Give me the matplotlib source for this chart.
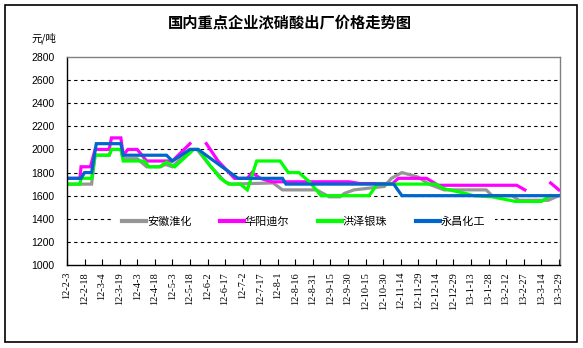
import matplotlib
matplotlib.use("Agg")
import matplotlib.pyplot as plt
from matplotlib.patches import Rectangle
import pandas as pd
import numpy as np

plt.rcParams['font.family'] = ['Noto Sans CJK SC', 'DejaVu Sans']

title = "国内重点企业浓硝酸出厂价格走势图"
unit = "元/吨"
series_names = ["安徽淮化", "华阳迪尔", "洪泽银珠", "永昌化工"]
series_colors = ["#969696", "#FF00FF", "#00FF00", "#0066CC"]

gray_dates = ["2012-02-03", "2012-02-24", "2012-02-27", "2012-03-10", "2012-03-12", "2012-03-20",
              "2012-03-22", "2012-04-03", "2012-04-11", "2012-04-23", "2012-04-27", "2012-05-03",
              "2012-05-18", "2012-05-24", "2012-06-04", "2012-06-17", "2012-06-22", "2012-07-28",
              "2012-08-05", "2012-09-03", "2012-09-14", "2012-09-23", "2012-09-27", "2012-10-05",
              "2012-10-31", "2012-11-06", "2012-11-15", "2012-11-29", "2012-12-08", "2012-12-21",
              "2013-01-26", "2013-01-31", "2013-02-17", "2013-02-23", "2013-03-20", "2013-03-29"]
gray_vals = [1700, 1700, 1950, 1950, 2000, 2000,
             1920, 1920, 1850, 1850, 1870, 1850,
             2000, 2000, 1860, 1720, 1700, 1710,
             1650, 1650, 1590, 1590, 1620, 1650,
             1680, 1750, 1800, 1760, 1700, 1650,
             1650, 1600, 1600, 1560, 1560, 1600]

magenta_dates = ["2012-02-03", "2012-02-14", "2012-02-15", "2012-02-23", "2012-02-27", "2012-03-10",
                 "2012-03-12", "2012-03-20", "2012-03-22", "2012-03-26", "2012-04-03", "2012-04-11",
                 "2012-04-25", "2012-05-03", "2012-05-18", "2012-05-25", "2012-06-01", "2012-06-11",
                 "2012-06-25", "2012-07-06", "2012-07-10", "2012-07-17", "2012-07-27", "2012-10-01",
                 "2012-10-10", "2012-11-07", "2012-11-12", "2012-12-06", "2012-12-16", "2013-02-21",
                 "2013-02-28", "2013-03-10", "2013-03-22", "2013-03-29"]
magenta_vals = [1750, 1750, 1850, 1850, 2000, 2000,
                2100, 2100, 1950, 2000, 2000, 1900,
                1900, 1900, 2050, None, 2050, 1900,
                1750, 1750, 1800, 1750, 1720, 1720,
                1705, 1705, 1750, 1750, 1690, 1690,
                1650, None, 1710, 1650]

green_dates = ["2012-02-03", "2012-02-14", "2012-02-15", "2012-02-24", "2012-02-27", "2012-03-10",
               "2012-03-12", "2012-03-20", "2012-03-22", "2012-04-09", "2012-04-13", "2012-04-22",
               "2012-04-28", "2012-05-05", "2012-05-18", "2012-05-21", "2012-05-25", "2012-06-05",
               "2012-06-13", "2012-06-20", "2012-06-30", "2012-07-06", "2012-07-14", "2012-08-03",
               "2012-08-10", "2012-08-19", "2012-08-28", "2012-09-07", "2012-10-18", "2012-10-25",
               "2012-12-14", "2012-12-21", "2013-01-08", "2013-01-15", "2013-01-31", "2013-02-20",
               "2013-03-14", "2013-03-22"]
green_vals = [1700, 1700, 1750, 1750, 1950, 1950,
              2000, 2000, 1900, 1900, 1850, 1850,
              1890, 1850, 1970, 2000, 2000, 1850,
              1750, 1700, 1700, 1650, 1900, 1900,
              1800, 1800, 1720, 1600, 1600, 1700,
              1700, 1660, 1620, 1600, 1590, 1550,
              1550, 1600]

blue_dates = ["2012-02-03", "2012-02-15", "2012-02-18", "2012-02-24", "2012-02-28", "2012-03-20",
              "2012-03-22", "2012-04-28", "2012-05-03", "2012-05-18", "2012-05-25", "2012-06-28",
              "2012-08-05", "2012-08-08", "2012-11-08", "2012-11-15", "2013-03-29"]
blue_vals = [1750, 1750, 1800, 1800, 2050, 2050,
             1950, 1950, 1900, 2000, 2000, 1750,
             1750, 1700, 1700, 1600, 1600]

y_ticks = [1000, 1200, 1400, 1600, 1800, 2000, 2200, 2400, 2600, 2800]
x_start = "2012-02-03"
x_end = "2013-03-29"
tick_step_days = 15

fig = plt.figure(figsize=(5.83, 3.48), dpi=100)
fig.patch.set_facecolor("white")
fig.add_artist(Rectangle((5 / 583, 1 - 342 / 348), 572 / 583, 337 / 348, transform=fig.transFigure,
                         fill=False, edgecolor="black", linewidth=1.2))

ax = fig.add_axes([67 / 583, 1 - 265 / 348, (560 - 67) / 583, (265 - 57) / 348])

all_data = [(gray_dates, gray_vals), (magenta_dates, magenta_vals),
            (green_dates, green_vals), (blue_dates, blue_vals)]
handles = []
for (d, v), name, c in zip(all_data, series_names, series_colors):
    dd = pd.to_datetime(d)
    vv = np.array([np.nan if x is None else x for x in v], dtype=float)
    h, = ax.plot(dd, vv, color=c, linewidth=2.3, label=name, solid_joinstyle="miter")
    handles.append(h)

start = pd.Timestamp(x_start)
end = pd.Timestamp(x_end)
ticks = pd.date_range(start, end, freq=f"{tick_step_days}D")
ax.set_xlim(start, end + pd.Timedelta(days=1))
ax.set_xticks(ticks)
ax.set_xticklabels([f"{t.year % 100}-{t.month}-{t.day}" for t in ticks], rotation=90,
                   family="Liberation Serif", fontsize=7.5)
ax.tick_params(axis="x", direction="in", length=4, pad=5, color="black")

ax.set_ylim(1000, 2800)
ax.set_yticks(y_ticks)
ax.set_yticklabels([str(v) for v in y_ticks], family="Liberation Sans", fontsize=7.5)
ax.tick_params(axis="y", length=0, pad=9)

for v in y_ticks[1:-1]:
    ax.axhline(v, color="black", linestyle=(0, (3, 3)), linewidth=0.8, zorder=0)

ax.spines["left"].set_color("black")
ax.spines["bottom"].set_color("black")
ax.spines["top"].set_color("#808080")
ax.spines["right"].set_color("#808080")
for s in ax.spines.values():
    s.set_linewidth(1.0)

leg = ax.legend(handles=handles, loc="center", bbox_to_anchor=(0.48, 0.21), ncol=4,
                frameon=True, fontsize=8, handlelength=2.15, handletextpad=0.1,
                columnspacing=2.55, borderpad=0.85, borderaxespad=0)
leg.get_frame().set_edgecolor("none")
leg.get_frame().set_facecolor("white")
leg.get_frame().set_alpha(1.0)
for lh in leg.get_lines():
    lh.set_linewidth(3)

fig.text(290 / 583, 1 - 22 / 348, title, ha="center", va="center", fontsize=11, fontweight="bold")
fig.text(31 / 583, 1 - 38 / 348, unit, ha="left", va="center", fontsize=7.5)

fig.savefig("out.png", dpi=100, facecolor="white")
